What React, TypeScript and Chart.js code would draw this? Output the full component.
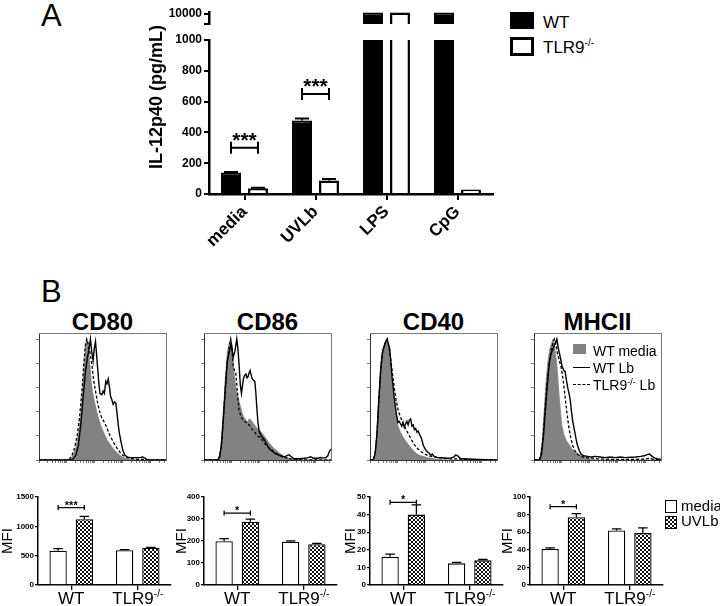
import React, { useEffect, useRef } from 'react';
import { Chart, registerables } from 'chart.js';

Chart.register(...registerables);

const FONT = "'Liberation Sans', Arial, Helvetica, sans-serif";
Chart.defaults.font.family = FONT;

// ---------------- Panel A data ----------------
const aCategories = ['media', 'UVLb', 'LPS', 'CpG'];
const aWT = [140, 477, 10300, 10300];
const aWTErr = [3, 14, 0, 0];
const aKO = [38, 88, 10300, 30];
const aKOErr = [3, 9, 0, 0];
const aLowerTicks = [0, 200, 400, 600, 800, 1000];
const aUpperTicks = [8000, 10000];
const aUpperLabel = 10000;
const aBreak = 1000;
const aSigIndex = [0, 1];
const aSigLevel = [300, 650];
const aSigText = ['***', '***'];

// ---------------- Panel B bar data ----------------
const bGroups = ['WT', 'TLR9-/-'];
const bMarkers = ['CD80', 'CD86', 'CD40', 'MHCII'];

const cd80Media = [583, 594];
const cd80MediaErr = [38, 10];
const cd80UVLb = [1120, 635];
const cd80UVLbErr = [50, 5];

const cd86Media = [199, 197];
const cd86MediaErr = [12, 4];
const cd86UVLb = [288, 185];
const cd86UVLbErr = [11, 4];

const cd40Media = [16, 12.3];
const cd40MediaErr = [1.5, 0.6];
const cd40UVLb = [40, 14];
const cd40UVLbErr = [5.5, 0.5];

const mhcMedia = [41, 62];
const mhcMediaErr = [1.3, 1.8];
const mhcUVLb = [77, 59];
const mhcUVLbErr = [4, 6];

const bMax = [1500, 400, 50, 100];
const bStep = [500, 100, 10, 20];
const bSigLevel = [1320, 327, 47, 89];
const bSigText = ['***', '*', '*', '*'];

// ---------------- Panel B histogram data ([x, y] pairs) ----------------
const histYTicks = [0, 20, 40, 60, 80, 100];

const cd80HistMedia = [[0,0],[22,0],[25,1],[27,4],[29,10],[31,21],[33,38],[34.5,60],[36,84],[37,97],[38,100],[39,94],[40,80],[41,66],[42,57],[43.5,49],[45,42],[47,34],[48.5,29],[50,25],[52,20],[54,16],[56,13],[58,10],[60,7.5],[62,5.5],[64,3.5],[66,2.2],[68,1.4],[71,0.7],[75,0.3],[80,0],[100,0]];
const cd80HistKO = [[0,0],[22,0],[24,1],[26,4],[28,10],[30,20],[32,36],[34,60],[35.5,82],[36.5,95],[37.5,100],[38.5,97],[40,90],[41.5,80],[43,66],[44.5,57],[46,48],[47.5,41],[49,36],[51,32],[52.5,29],[54,25],[56,20],[58,16],[60,12],[62,9],[64,6],[66,4],[68,2.5],[71,1.5],[74,1],[78,0.5],[82,0.5],[86,0],[100,0]];
const cd80HistWT = [[0,0],[25,0],[27,1],[29,4],[31,12],[33,30],[35,55],[36.5,72],[38,84],[39.5,92],[40.5,100],[41.5,90],[42.6,82],[43.5,92],[44.5,98],[45.5,85],[47,65],[48,55],[49.5,54],[50.5,57],[51.5,55],[52.6,65],[53.5,63],[54.5,67],[55.5,60],[56.3,53],[57.3,50],[58.4,46],[59.5,48],[60.5,47],[61.5,38],[62.4,29],[63.3,22],[64.2,17],[66,8],[67.6,4],[69.5,2.5],[71.6,2],[75,2],[79.5,2],[81.5,2.5],[83.4,1.5],[85,0.5],[87.4,0],[100,0]];

const cd86HistMedia = [[0,0],[10,0],[11.5,2],[13,8],[14.5,29],[15.8,50],[17,71],[18.3,88],[19.7,96],[21,100],[22.3,90],[23.7,71],[25,60],[26,55],[27.5,49],[29,43],[30.3,38],[31.6,35],[33,33],[34,31],[35.5,34],[37,33],[38.3,31],[39.5,29],[41,27.5],[42,26],[43.3,25],[44.7,23.5],[46.5,21],[48.7,18],[50.5,15],[52.6,12.5],[55,9.5],[58,7],[60.5,5],[63,3],[65.5,2],[68,1],[72,0.4],[76,0],[100,0]];
const cd86HistKO = [[0,0],[10.5,0],[12,2],[13.5,10],[15,30],[16.5,55],[18,78],[19.5,92],[21,100],[22,92],[23,77],[24,74],[25,72],[26,60],[27.6,41],[29.5,35],[31.6,32],[33.5,31],[35.5,29],[37.5,26],[39.5,23.5],[42,20],[44.7,18],[47.5,14],[50,11],[52.5,9],[55,7],[57.5,5],[60.5,3.5],[63,2.5],[66,1.4],[69,0.7],[72,0.5],[80,0],[100,0]];
const cd86HistWT = [[0,0],[11,0],[12.5,3],[14,15],[15.8,43],[17,62],[18.4,82],[20,90],[21.6,96],[23,85],[24.4,90],[25.8,100],[26.7,92],[27.6,79],[28.6,62],[29.5,55],[31,67],[32,70],[33,71],[33.8,68],[34.7,69],[35.5,72],[36.3,74],[37.2,70],[38,67],[39,66],[40,65],[40.8,56],[41.6,43],[42.5,31],[43.4,24],[45,20],[47.4,17],[49.5,13],[51.3,9.5],[54,7],[56.6,5],[59,4],[61.8,2.7],[64,3],[67,4.2],[69,2.5],[71,1],[75,1],[79,1.4],[82,2],[84,2.7],[86,1.5],[89.5,1.4],[92,2],[94,1.6],[96,2],[97.5,3.5],[98.7,7],[100,9]];

const cd40HistMedia = [[0,0],[2.5,0],[4,5],[5,15],[6.6,47],[8,70],[9,86],[10.5,93],[12,97],[13,100],[14,97],[15,92],[16,80],[17,66],[18.5,52],[20,41],[22,28],[24,23],[26,19],[28.5,15],[31.6,11],[34,8],[37,5],[40,3.5],[45,2],[50,1],[55,0.5],[60,0],[100,0]];
const cd40HistKO = [[0,0],[2.5,0],[4,5],[5.5,20],[7,50],[8.5,75],[10,90],[12,97],[13.5,100],[15,93],[16.5,82],[17.5,73],[19,60],[20.5,50],[22,42],[23.5,37],[25,33],[27,28],[29,24],[31,20],[33,16],[35,12.5],[37.5,9.5],[40,7],[43,5],[46,3.5],[50,2.5],[55,1.8],[60,1.2],[65,1],[70,0.8],[75,0.5],[80,0.3],[85,0],[100,0]];
const cd40HistWT = [[0,0],[2.5,0],[4,5],[5.5,22],[7,50],[8.5,76],[10,90],[12,97],[13.5,100],[14.5,96],[15.5,92],[16.5,80],[17.5,67],[19,52],[20.5,40],[22,31],[23,32],[24,30],[25,28],[26,31],[27,27],[28,30],[29,32],[30,29],[31,33],[32,34],[33,28],[34,29],[35,25],[36,26],[37,23],[38,24],[39,21],[40.5,18],[42,12],[43.5,9],[45,7],[46.5,5.5],[48,4],[49,5],[50.5,3],[53,2],[57,1.8],[61,1.5],[64,1.8],[66,2.5],[67.5,4.2],[69,3.5],[70.5,1.8],[72,1],[78,0.8],[85,0.5],[92,0.3],[100,0]];

const mhcHistMedia = [[0,0],[3.5,0],[5,3],[6.5,15],[8,40],[9.5,65],[11,82],[12.5,92],[14,97],[15,100],[16,95],[17,88],[18,78],[19,64],[20,50],[21,38],[22,28],[23.5,21],[25.5,16],[27.5,13],[30,9],[33,6.5],[36,4],[39,2.5],[42,1.2],[46,0.5],[50,0],[100,0]];
const mhcHistKO = [[0,0],[4,0],[5.5,5],[7,18],[8.5,40],[10,60],[11.5,76],[13,88],[14.5,95],[16,100],[17,97],[18.5,88],[20,82],[21.5,76],[23,66],[24.5,52],[26,38],[27.6,26],[29,18],[30.5,12],[32,8],[34,5],[37,3],[40,2],[45,1.5],[50,1],[55,0.8],[60,0.6],[70,0.5],[80,0.5],[88,0.8],[91,1.5],[94,0.5],[100,0]];
const mhcHistWT = [[0,0],[4.5,0],[6,5],[7.5,20],[9,42],[10.5,62],[12,80],[13.5,88],[15,92],[16.5,96],[18,100],[19,93],[20.5,86],[22,78],[23.5,74],[24.5,73],[25.5,66],[26.5,60],[27.6,55],[28.5,50],[29.5,40],[30.5,32],[31.6,26],[33,18],[34,13],[35.5,8],[37,5],[39,3.5],[42,3],[45,2.5],[48,3],[52,2.5],[56,2],[60,2.5],[64,2],[68,2.5],[72,2],[76,2.3],[80,2.5],[84,3],[87,3.5],[89,4.5],[91,5],[93,3],[95,1.5],[97,1],[100,0.5]];

// ---------------- layout constants ----------------
const HIST_TOP = 333;
const HIST_H = 127;
const HIST_LEFT = [39, 204, 370, 534];
const HIST_W = 127;

const BAR_AXIS_X = [38, 204, 370, 530];
const BAR_YW = [38, 30, 27, 30];
const BAR_AREA_W = 133;
const BAR_TOP = 497;
const BAR_BOTTOM = 585;

// log-style minor ticks for the flow histogram x axes (decoration only)
const histXTicks: number[] = [];
for (let d = 0; d < 5; d++) {
  for (let k = 1; k <= 9; k++) {
    const v = 22 * d + 22 * Math.log10(k);
    if (v <= 100) histXTicks.push(v);
  }
}

function makeChecker(): any {
  const c = document.createElement('canvas');
  c.width = 4;
  c.height = 4;
  const g = c.getContext('2d')!;
  g.fillStyle = '#fff';
  g.fillRect(0, 0, 4, 4);
  g.fillStyle = '#111';
  g.fillRect(0, 0, 2, 2);
  g.fillRect(2, 2, 2, 2);
  return g.createPattern(c, 'repeat') || '#777';
}

type Sig = { index: number; level: number; text: string };
type AnnotCfg = {
  errs: number[][];
  sig: Sig[];
  lineWidth: number;
  capFrac: number;
  bracketCap: number;
  starFont: string;
  starGap: number;
  groupLabels?: { labels: string[]; size: number; supSize: number; offset: number; raise: number };
};

function annotPlugin(cfg: AnnotCfg) {
  return {
    id: 'annot',
    afterDatasetsDraw(chart: any) {
      const ctx = chart.ctx;
      const ys = chart.scales.y;
      ctx.save();
      ctx.strokeStyle = '#000';
      ctx.fillStyle = '#000';
      ctx.lineWidth = cfg.lineWidth;
      cfg.errs.forEach((errArr, di) => {
        const meta = chart.getDatasetMeta(di);
        const data = chart.data.datasets[di].data as number[];
        meta.data.forEach((el: any, i: number) => {
          const e = errArr[i];
          const v = data[i];
          if (!e || v == null) return;
          const top = ys.getPixelForValue(v + e);
          const half = (el.width * cfg.capFrac) / 2;
          ctx.beginPath();
          ctx.moveTo(el.x, el.y);
          ctx.lineTo(el.x, top);
          ctx.moveTo(el.x - half, top);
          ctx.lineTo(el.x + half, top);
          ctx.stroke();
        });
      });
      cfg.sig.forEach((s) => {
        const a: any = chart.getDatasetMeta(0).data[s.index];
        const b: any = chart.getDatasetMeta(1).data[s.index];
        const py = ys.getPixelForValue(s.level);
        const c = cfg.bracketCap;
        ctx.beginPath();
        ctx.moveTo(a.x, py - c);
        ctx.lineTo(a.x, py + c);
        ctx.moveTo(a.x, py);
        ctx.lineTo(b.x, py);
        ctx.moveTo(b.x, py - c);
        ctx.lineTo(b.x, py + c);
        ctx.stroke();
        ctx.font = cfg.starFont;
        ctx.textAlign = 'center';
        ctx.textBaseline = 'alphabetic';
        ctx.fillText(s.text, (a.x + b.x) / 2, py + cfg.starGap);
      });
      const gl = cfg.groupLabels;
      if (gl) {
        const xs = chart.scales.x;
        gl.labels.forEach((lab, i) => {
          const px = xs.getPixelForValue(i);
          const m = lab.match(/^(.*?)(-\/-)$/);
          const base = m ? m[1] : lab;
          const sup = m ? m[2] : '';
          ctx.font = `${gl.size}px ${FONT}`;
          const wb = ctx.measureText(base).width;
          ctx.font = `${gl.supSize}px ${FONT}`;
          const ws = sup ? ctx.measureText(sup).width : 0;
          const x0 = px - (wb + ws) / 2;
          const by = chart.chartArea.bottom + gl.offset;
          ctx.textAlign = 'left';
          ctx.textBaseline = 'alphabetic';
          ctx.font = `${gl.size}px ${FONT}`;
          ctx.fillText(base, x0, by);
          if (sup) {
            ctx.font = `${gl.supSize}px ${FONT}`;
            ctx.fillText(sup, x0 + wb, by - gl.raise);
          }
        });
      }
      ctx.restore();
    },
  };
}

const baseOpts = {
  animation: false as const,
  responsive: false,
  maintainAspectRatio: false,
  devicePixelRatio: 1,
  events: [] as any[],
};

// ---------------- chart config builders ----------------
function panelALower() {
  return {
    type: 'bar',
    data: {
      labels: aCategories,
      datasets: [
        { label: 'WT', data: aWT, backgroundColor: '#000', borderColor: '#000', borderWidth: 2, clip: 0, categoryPercentage: 0.76, barPercentage: 0.74 },
        { label: 'TLR9-/-', data: aKO, backgroundColor: '#fff', borderColor: '#000', borderWidth: 2.5, clip: 0, categoryPercentage: 0.76, barPercentage: 0.74 },
      ],
    },
    options: {
      ...baseOpts,
      layout: { padding: { top: 12, right: 7, left: 0, bottom: 0 } },
      plugins: { legend: { display: false }, tooltip: { enabled: false } },
      scales: {
        x: {
          grid: { display: true, drawOnChartArea: false, drawTicks: true, tickLength: 6, color: '#000', lineWidth: 2, offset: false },
          border: { display: true, color: '#000', width: 2.5 },
          ticks: { color: '#000', font: { family: FONT, size: 17, weight: 'bold' }, minRotation: 45, maxRotation: 45, padding: 2, autoSkip: false },
          afterFit: (s: any) => { s.height = 74; s.paddingLeft = 0; s.paddingRight = 0; },
        },
        y: {
          min: 0,
          max: aBreak,
          afterBuildTicks: (s: any) => { s.ticks = aLowerTicks.map((v) => ({ value: v })); },
          grid: { display: true, drawOnChartArea: false, drawTicks: true, tickLength: 5, color: '#000', lineWidth: 2 },
          border: { display: true, color: '#000', width: 2.5 },
          ticks: { color: '#000', font: { family: FONT, size: 12, weight: 'bold' }, padding: 2, autoSkip: false, callback: (v: any) => String(v) },
          afterFit: (s: any) => { s.width = 67; s.paddingTop = 0; s.paddingBottom = 0; },
        },
      },
    },
    plugins: [
      annotPlugin({
        errs: [aWTErr, aKOErr],
        sig: aSigIndex.map((idx, k) => ({ index: idx, level: aSigLevel[k], text: aSigText[k] })),
        lineWidth: 2,
        capFrac: 0.7,
        bracketCap: 6,
        starFont: `bold 21px ${FONT}`,
        starGap: -1,
      }),
    ],
  };
}

function panelAUpper() {
  return {
    type: 'bar',
    data: {
      labels: aCategories,
      datasets: [
        { label: 'WT', data: aWT.map((v) => (v > aBreak ? v : null)), backgroundColor: '#000', borderColor: '#000', borderWidth: 2, clip: 0, categoryPercentage: 0.76, barPercentage: 0.74 },
        { label: 'TLR9-/-', data: aKO.map((v) => (v > aBreak ? v : null)), backgroundColor: '#fff', borderColor: '#000', borderWidth: 2.5, clip: 0, categoryPercentage: 0.76, barPercentage: 0.74 },
      ],
    },
    options: {
      ...baseOpts,
      layout: { padding: { top: 12, right: 7, left: 0, bottom: 4 } },
      plugins: { legend: { display: false }, tooltip: { enabled: false } },
      scales: {
        x: { display: false },
        y: {
          min: 8000,
          max: 10400,
          afterBuildTicks: (s: any) => { s.ticks = aUpperTicks.map((v) => ({ value: v })); },
          grid: { display: true, drawOnChartArea: false, drawTicks: true, tickLength: 5, color: '#000', lineWidth: 2 },
          border: { display: true, color: '#000', width: 2.5 },
          ticks: {
            color: '#000',
            font: { family: FONT, size: 12, weight: 'bold' },
            padding: 2,
            autoSkip: false,
            callback: (v: any) => (Number(v) === aUpperLabel ? String(v) : ''),
          },
          afterFit: (s: any) => { s.width = 67; s.paddingTop = 0; s.paddingBottom = 0; },
        },
      },
    },
  };
}

function panelBBar(i: number) {
  const media = [cd80Media, cd86Media, cd40Media, mhcMedia][i];
  const mediaErr = [cd80MediaErr, cd86MediaErr, cd40MediaErr, mhcMediaErr][i];
  const uv = [cd80UVLb, cd86UVLb, cd40UVLb, mhcUVLb][i];
  const uvErr = [cd80UVLbErr, cd86UVLbErr, cd40UVLbErr, mhcUVLbErr][i];
  const pattern = makeChecker();
  return {
    type: 'bar',
    data: {
      labels: bGroups,
      datasets: [
        { label: 'media', data: media, backgroundColor: '#fff', borderColor: '#000', borderWidth: 1.3, categoryPercentage: 0.79, barPercentage: 0.66 },
        { label: 'UVLb', data: uv, backgroundColor: pattern, borderColor: '#000', borderWidth: 1.3, categoryPercentage: 0.79, barPercentage: 0.66 },
      ],
    },
    options: {
      ...baseOpts,
      layout: { padding: { top: 8, right: 2, left: 0, bottom: 0 } },
      plugins: { legend: { display: false }, tooltip: { enabled: false } },
      scales: {
        x: {
          grid: { display: true, drawOnChartArea: false, drawTicks: true, tickLength: 5, color: '#000', lineWidth: 1.3, offset: false },
          border: { display: true, color: '#000', width: 1.5 },
          ticks: { display: false },
          afterFit: (s: any) => { s.height = 606 - BAR_BOTTOM; s.paddingLeft = 0; s.paddingRight = 0; },
        },
        y: {
          min: 0,
          max: bMax[i],
          ticks: { stepSize: bStep[i], color: '#000', font: { family: FONT, size: 8, weight: 'bold' }, padding: 1, autoSkip: false, callback: (v: any) => String(v) },
          grid: { display: true, drawOnChartArea: false, drawTicks: true, tickLength: 3, color: '#000', lineWidth: 1.3 },
          border: { display: true, color: '#000', width: 1.5 },
          title: { display: true, text: 'MFI', color: '#000', font: { family: FONT, size: 15, lineHeight: 1 }, padding: 0 },
          afterFit: (s: any) => { s.width = BAR_YW[i]; s.paddingTop = 0; s.paddingBottom = 0; },
        },
      },
    },
    plugins: [
      annotPlugin({
        errs: [mediaErr, uvErr],
        sig: [{ index: 0, level: bSigLevel[i], text: bSigText[i] }],
        lineWidth: 1.3,
        capFrac: 0.55,
        bracketCap: 2.5,
        starFont: `bold 11px ${FONT}`,
        starGap: 1,
        groupLabels: { labels: bGroups, size: 17, supSize: 10, offset: 19, raise: 7 },
      }),
    ],
  };
}

function panelBHist(i: number) {
  const media = [cd80HistMedia, cd86HistMedia, cd40HistMedia, mhcHistMedia][i];
  const ko = [cd80HistKO, cd86HistKO, cd40HistKO, mhcHistKO][i];
  const wt = [cd80HistWT, cd86HistWT, cd40HistWT, mhcHistWT][i];
  const hidden = {
    type: 'linear',
    min: 0,
    max: 100,
    display: true,
    ticks: { display: false },
    grid: { display: false, drawTicks: false },
    border: { display: true, color: '#777', width: 1 },
  };
  return {
    type: 'line',
    data: {
      datasets: [
        { label: 'WT media', data: media, borderColor: '#828282', backgroundColor: '#828282', borderWidth: 0.8, fill: 'origin', pointRadius: 0, tension: 0, order: 3 },
        { label: 'TLR9-/- Lb', data: ko, borderColor: '#000', borderDash: [3, 2], borderWidth: 1.3, fill: false, pointRadius: 0, tension: 0, order: 2 },
        { label: 'WT Lb', data: wt, borderColor: '#000', borderWidth: 1.4, fill: false, pointRadius: 0, tension: 0, order: 1 },
      ],
    },
    options: {
      ...baseOpts,
      layout: { padding: { top: 2, right: 2, left: 0, bottom: 0 } },
      plugins: { legend: { display: false }, tooltip: { enabled: false } },
      scales: {
        x: {
          type: 'linear',
          min: 0,
          max: 100,
          afterBuildTicks: (s: any) => { s.ticks = histXTicks.map((v) => ({ value: v })); },
          ticks: { display: false },
          grid: { display: true, drawOnChartArea: false, drawTicks: true, tickLength: 3, color: '#555', lineWidth: 0.8 },
          border: { display: true, color: '#333', width: 1 },
          afterFit: (s: any) => { s.height = 4; s.paddingLeft = 0; s.paddingRight = 0; },
        },
        y: {
          min: 0,
          max: 105,
          afterBuildTicks: (s: any) => { s.ticks = histYTicks.map((v) => ({ value: v })); },
          ticks: { display: false },
          grid: { display: true, drawOnChartArea: false, drawTicks: true, tickLength: 3, color: '#555', lineWidth: 0.8 },
          border: { display: true, color: '#333', width: 1 },
          afterFit: (s: any) => { s.width = 4; s.paddingTop = 0; s.paddingBottom = 0; },
        },
        x2: { ...hidden, position: 'top', afterFit: (s: any) => { s.height = 0; s.paddingLeft = 0; s.paddingRight = 0; } },
        y2: { ...hidden, position: 'right', afterFit: (s: any) => { s.width = 0; s.paddingTop = 0; s.paddingBottom = 0; } },
      },
    },
  };
}

// ---------------- components ----------------
function ChartBox(props: { left: number; top: number; width: number; height: number; make: () => any }) {
  const ref = useRef<HTMLCanvasElement>(null);
  useEffect(() => {
    const chart = new Chart(ref.current as HTMLCanvasElement, props.make());
    return () => chart.destroy();
  }, []);
  return (
    <canvas
      ref={ref}
      width={props.width}
      height={props.height}
      style={{ position: 'absolute', left: props.left, top: props.top, width: props.width, height: props.height }}
    />
  );
}

function T(props: { x: number; base: number; size: number; bold?: boolean; center?: boolean; children: any }) {
  const { x, base, size, bold, center, children } = props;
  return (
    <div
      style={{
        position: 'absolute',
        left: x,
        top: base - 0.8465 * size,
        fontSize: size,
        lineHeight: `${size}px`,
        fontWeight: bold ? 'bold' : 'normal',
        whiteSpace: 'nowrap',
        transform: center ? 'translateX(-50%)' : undefined,
        color: '#000',
      }}
    >
      {children}
    </div>
  );
}

const sup = (s: number, r: number) => ({ fontSize: s, position: 'relative' as const, top: -r });

export default function App() {
  const checkerCss = 'repeating-conic-gradient(#111 0% 25%, #fff 0% 50%) 0 0 / 4px 4px';
  return (
    <div style={{ position: 'absolute', left: 0, top: 0, width: 720, height: 606, background: '#fff', overflow: 'hidden', fontFamily: FONT }}>
      {/* Panel A */}
      <ChartBox left={142} top={0} width={358} height={28} make={panelAUpper} />
      <ChartBox left={142} top={28} width={358} height={240} make={panelALower} />
      <T x={41} base={26} size={31}>A</T>
      <div
        style={{
          position: 'absolute',
          left: 156,
          top: 97,
          transform: 'translate(-50%, -50%) rotate(-90deg)',
          fontSize: 18,
          lineHeight: '18px',
          fontWeight: 'bold',
          whiteSpace: 'nowrap',
        }}
      >
        IL-12p40 (pg/mL)
      </div>
      <div style={{ position: 'absolute', left: 510, top: 12, width: 24, height: 17, background: '#000' }} />
      <div style={{ position: 'absolute', left: 510, top: 37, width: 24, height: 19, boxSizing: 'border-box', border: '3px solid #000', background: '#fff' }} />
      <T x={543} base={28} size={17}>WT</T>
      <T x={543} base={53} size={17}>
        TLR9<span style={sup(10, 7)}>-/-</span>
      </T>

      {/* Panel B */}
      <T x={41} base={302} size={31}>B</T>
      {bMarkers.map((m, i) => (
        <T key={m} x={HIST_LEFT[i] + HIST_W / 2} base={330} size={24} bold center>
          {m}
        </T>
      ))}
      {bMarkers.map((m, i) => (
        <ChartBox
          key={'h' + m}
          left={HIST_LEFT[i] - 4}
          top={HIST_TOP - 2}
          width={HIST_W + 6}
          height={HIST_H + 6}
          make={() => panelBHist(i)}
        />
      ))}
      {bMarkers.map((m, i) => (
        <ChartBox
          key={'b' + m}
          left={BAR_AXIS_X[i] - BAR_YW[i]}
          top={BAR_TOP - 8}
          width={BAR_YW[i] + BAR_AREA_W + 2}
          height={606 - (BAR_TOP - 8)}
          make={() => panelBBar(i)}
        />
      ))}

      {/* histogram legend (inside MHCII box) */}
      <div style={{ position: 'absolute', left: 573, top: 344, width: 13, height: 10, background: '#828282' }} />
      <div style={{ position: 'absolute', left: 573, top: 367, width: 17, height: 0, borderTop: '1.5px solid #000' }} />
      <div style={{ position: 'absolute', left: 573, top: 384, width: 17, height: 0, borderTop: '1.5px dashed #000' }} />
      <T x={593} base={356} size={14}>WT media</T>
      <T x={593} base={373} size={14}>WT Lb</T>
      <T x={593} base={390} size={14}>
        TLR9<span style={sup(9, 5)}>-/-</span> Lb
      </T>

      {/* bar legend */}
      <div style={{ position: 'absolute', left: 665, top: 500, width: 12, height: 13, boxSizing: 'border-box', border: '1.5px solid #000', background: '#fff' }} />
      <div style={{ position: 'absolute', left: 665, top: 516, width: 12, height: 13, boxSizing: 'border-box', border: '1.5px solid #000', background: checkerCss }} />
      <T x={681} base={511} size={15}>media</T>
      <T x={681} base={526} size={15}>UVLb</T>
    </div>
  );
}
